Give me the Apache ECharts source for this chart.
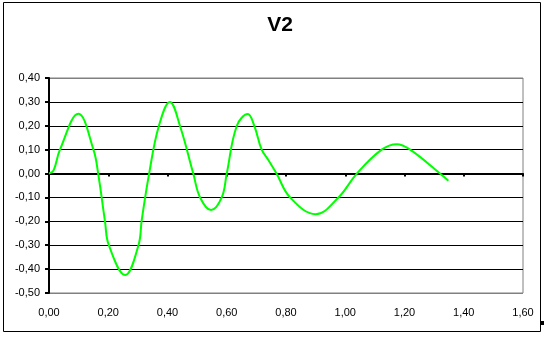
<!DOCTYPE html>
<html>
<head>
<meta charset="utf-8">
<script src="https://cdn.jsdelivr.net/npm/echarts@6/dist/echarts.min.js"></script>
<style>
html,body{margin:0;padding:0;background:#fff;}
#c{width:546px;height:338px;}
</style>
</head>
<body>
<div id="c"></div>
<script>
var title = 'V2';
var xValues = [0, 0.015, 0.037, 0.099, 0.15, 0.166, 0.189, 0.202, 0.257, 0.302, 0.313, 0.338, 0.371, 0.408, 0.442, 0.487, 0.51, 0.547, 0.583, 0.60, 0.634, 0.671, 0.693, 0.718, 0.741, 0.768, 0.814, 0.90, 0.977, 1.039, 1.123, 1.174, 1.219, 1.32, 1.348];
var v2Values = [0, 0.012, 0.10, 0.25, 0.10, 0.0, -0.20, -0.30, -0.425, -0.30, -0.195, 0.0, 0.20, 0.30, 0.20, 0.0, -0.10, -0.153, -0.10, 0.0, 0.20, 0.249, 0.20, 0.10, 0.056, 0.0, -0.10, -0.17, -0.10, 0.0, 0.10, 0.123, 0.10, 0.0, -0.03];
var yTicks = {min: -0.5, max: 0.4, interval: 0.1};
var xTicks = {min: 0, max: 1.6, interval: 0.2};

function fmt(v){
  var r = Math.round(v * 100) / 100;
  if (Math.abs(r) < 1e-9) r = 0;
  return r.toFixed(2).replace('.', ',');
}

var data = xValues.map(function(x, i){ return [x, v2Values[i]]; });

var chart = echarts.init(document.getElementById('c'), null, {renderer: 'canvas'});
var labelFont = {fontFamily: 'Liberation Sans, Arial, sans-serif', fontSize: 11, color: '#000'};
chart.setOption({
  animation: false,
  backgroundColor: '#fff',
  title: {
    text: title,
    left: 275, top: 10, textAlign: 'center',
    textStyle: {fontFamily: 'Liberation Sans, Arial, sans-serif', fontSize: 21, fontWeight: 'bold', color: '#000'}
  },
  graphic: [
    {type: 'rect', shape: {x: 3.5, y: 2.5, width: 537, height: 329}, style: {fill: null, stroke: '#000', lineWidth: 1}, z: 0},
    {type: 'rect', shape: {x: 541, y: 321, width: 3, height: 4}, style: {fill: '#000'}, z: 0}
  ],
  grid: {left: 49, right: 23, top: 78, bottom: 45, show: true, borderColor: '#808080', borderWidth: 1, backgroundColor: '#fff'},
  xAxis: [
    {
      type: 'value', min: xTicks.min, max: xTicks.max, interval: xTicks.interval,
      position: 'bottom',
      axisLine: {show: false, onZero: false},
      axisTick: {show: false},
      splitLine: {show: false},
      axisLabel: Object.assign({margin: 14, formatter: fmt}, labelFont)
    },
    {
      type: 'value', min: xTicks.min, max: xTicks.max, interval: xTicks.interval,
      position: 'bottom',
      axisLine: {show: true, onZero: true, lineStyle: {color: '#000', width: 2}},
      axisTick: {show: true, inside: false, length: 3, lineStyle: {color: '#000', width: 2}},
      splitLine: {show: false},
      axisLabel: {show: false}
    }
  ],
  yAxis: {
    type: 'value', min: yTicks.min, max: yTicks.max, interval: yTicks.interval,
    axisLine: {show: true, lineStyle: {color: '#000', width: 2}},
    axisTick: {show: true, length: 4, lineStyle: {color: '#000', width: 2}},
    splitLine: {show: true, lineStyle: {color: ['#808080', '#000', '#000', '#000', '#000', '#000', '#000', '#000', '#000', '#808080'], width: 1}},
    axisLabel: Object.assign({margin: 9, formatter: fmt}, labelFont)
  },
  series: [{
    type: 'line',
    xAxisIndex: 1,
    data: data,
    smooth: 0.4,
    showSymbol: false,
    lineStyle: {color: '#00ff00', width: 2},
    z: 5
  }]
});
</script>
</body>
</html>
